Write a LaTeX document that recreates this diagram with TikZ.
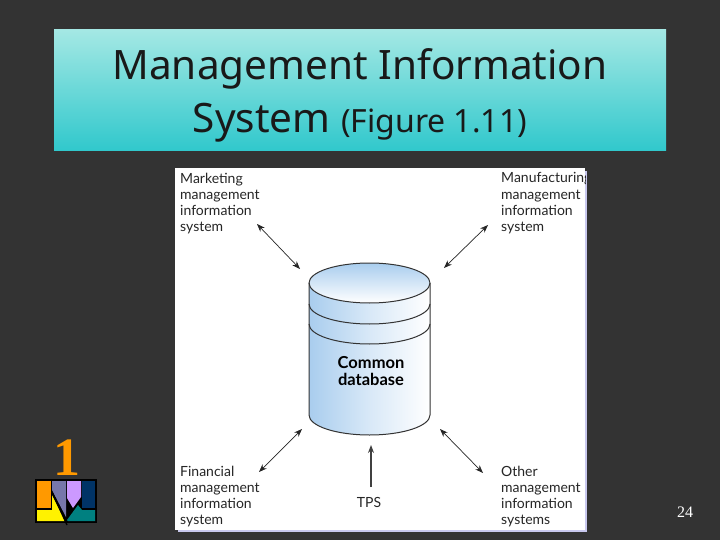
\documentclass[tikz,border=0pt]{standalone}
\usepackage{fontspec}
\setmainfont{Noto Sans}
\newfontfamily\figfont{Lato}
\newfontfamily\numfont{Liberation Serif}
\usetikzlibrary{positioning,arrows.meta}
\definecolor{slide}{HTML}{333333}
\definecolor{titletop}{HTML}{A4E8E4}
\definecolor{titlebot}{HTML}{30C8CC}
\definecolor{dbblue}{HTML}{A9CDEE}
\definecolor{shadowblue}{HTML}{C8C8EE}
\definecolor{logoorange}{HTML}{FF9900}
\definecolor{logonavy}{HTML}{003366}
\definecolor{logoslate}{HTML}{7777AA}
\definecolor{logolilac}{HTML}{CC99FF}
\definecolor{logoteal}{HTML}{008080}
\tikzset{
	label/.style={font=\figfont\fontsize{14}{16.3}\selectfont, align=left, anchor=north west, inner sep=0pt, text=black!85},
	link/.style={{Stealth[length=8pt,width=6pt]}-{Stealth[length=8pt,width=6pt]}, line width=0.7pt, black!85},
	rim/.style={line width=1pt, black!80},
}
\begin{document}
\begin{tikzpicture}[x=1pt,y=-1pt, line join=round]
	\fill[slide] (0,0) rectangle (720,540);
	\useasboundingbox (0,0) rectangle (720,540);
	% title band
	\shade[top color=titletop, bottom color=titlebot] (54,30) rectangle (666,151);
	\node[font=\fontsize{40.5}{53}\selectfont, align=center, text=black!90] (title) at (360,95) {Management Information\\System {\fontsize{32}{40}\selectfont (Figure 1.11)}};
	% white card
	\fill[shadowblue] (178,171) rectangle (587,532);
	\fill[white] (175,168) rectangle (585,530);
	% database
	\def\dbl{309} \def\dbr{430} \def\dbc{369.5} \def\dbrx{60.5} \def\dbry{20}
	\shade[left color=dbblue, right color=white, middle color=dbblue!45] (\dbl,283)--(\dbl,415) arc (180:360:\dbrx pt and \dbry pt)--(\dbr,283)--cycle;
	\shade[top color=dbblue, bottom color=white] (\dbc,283) ellipse (\dbrx pt and \dbry pt);
	\draw[rim] (\dbl,283) arc (180:-180:\dbrx pt and \dbry pt);
	\draw[rim] (\dbl,283)--(\dbl,415) arc (180:360:\dbrx pt and \dbry pt)--(\dbr,283);
	\draw[rim] (\dbl,304) arc (180:360:\dbrx pt and \dbry pt);
	\draw[rim] (\dbl,324) arc (180:360:\dbrx pt and \dbry pt);
	\node[font=\figfont\bfseries\fontsize{16.5}{16.5}\selectfont, align=center, text=black] (db) at (371,371) {Common\\database};
	% labels
	\node[label] (mkt) at (180,172.5) {Marketing\\management\\information\\system};
	\begin{scope}
		\clip (175,168) rectangle (585,530);
		\node[label] (mfg) at (501,172.5) {Manufacturing\\management\\information\\system};
	\end{scope}
	\node[label] (fin) at (180,465.5) {Financial\\management\\information\\system};
	\node[label] (oth) at (501,465.5) {Other\\management\\information\\systems};
	\node[label, anchor=center] (tps) at (369,502) {TPS};
	\coordinate (dbnw) at (300,269);
	\coordinate (dbne) at (444,268);
	\coordinate (dbsw) at (302,429);
	\coordinate (dbse) at (440,429);
	\coordinate (mktend) at (257,224);
	\coordinate (mfgend) at (488,225);
	\coordinate (finend) at (259,472);
	\coordinate (othend) at (483,473);
	\coordinate (dbs) at (371,445);
	\coordinate (tpsend) at (371,487);
	\draw[link] (mktend)--(dbnw);
	\draw[link] (mfgend)--(dbne);
	\draw[link] (finend)--(dbsw);
	\draw[link] (othend)--(dbse);
	\draw[-{Stealth[length=8pt,width=6pt]}, line width=1.2pt, black!75] (tpsend)--(dbs);
	% page number and logo
	\node[font=\numfont\fontsize{16}{18}\selectfont, text=white] (page) at (685,512) {24};
	\node[font=\numfont\bfseries\fontsize{54}{54}\selectfont, text=logoorange] (chap) at (67,458) {1};
	\fill[black] (35,479) rectangle (97,523);
	\fill[logoorange] (37,481) rectangle (51,508);
	\fill[yellow] (37,510)--(52,510)--(52,495)--(65,521)--(37,521)--cycle;
	\fill[logonavy] (82,481) rectangle (95,508);
	\fill[logoteal] (67,520)--(78,505)--(82,510)--(95,510)--(95,521)--(68,521)--cycle;
	\fill[logoslate] (52,481)--(66,481)--(66,517)--(52,490)--cycle;
	\fill[logolilac] (67,481)--(81,481)--(81,497)--(73,508)--(67,498)--cycle;
	\draw[black, line width=1.3pt] (52,492)--(67,525);
\end{tikzpicture}
\end{document}
